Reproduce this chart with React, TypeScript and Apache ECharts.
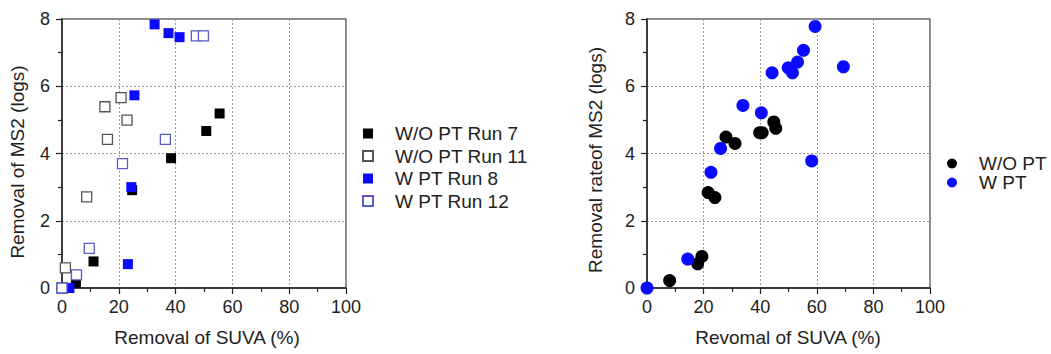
import React, { useEffect, useRef } from "react";
import * as echarts from "echarts";

// Left panel: removal of MS2 vs removal of SUVA, per run
const run7X = [4.9, 11.1, 24.7, 38.4, 50.8, 55.5];
const run7Y = [0.15, 0.79, 2.91, 3.86, 4.67, 5.19];

const run11X = [0, 1.2, 8.7, 15.1, 16.0, 20.8, 22.9];
const run11Y = [0, 0.6, 2.71, 5.39, 4.42, 5.66, 4.99];

const run8X = [2.6, 23.2, 24.4, 25.5, 32.6, 37.5, 41.4];
const run8Y = [0, 0.71, 3.0, 5.73, 7.84, 7.58, 7.46];

const run12X = [0, 5.1, 9.6, 21.3, 36.4, 47.3, 49.8];
const run12Y = [0, 0.39, 1.18, 3.7, 4.42, 7.5, 7.5];

// Right panel: pooled without / with pre-treatment
const woptX = [8.0, 17.9, 19.4, 21.6, 24.0, 27.9, 31.1, 39.8, 40.7, 44.8, 45.5];
const woptY = [0.22, 0.72, 0.94, 2.84, 2.69, 4.49, 4.3, 4.62, 4.62, 4.94, 4.75];

const wptX = [0, 14.4, 22.6, 26.0, 33.9, 40.4, 44.2, 49.9, 51.4, 53.2, 55.3, 59.4, 58.2, 69.4];
const wptY = [0, 0.86, 3.44, 4.15, 5.43, 5.21, 6.4, 6.55, 6.4, 6.72, 7.07, 7.78, 3.78, 6.58];

const xTicks = [0, 20, 40, 60, 80, 100];
const yTicks = [0, 2, 4, 6, 8];

const zip = (xs: number[], ys: number[]) => xs.map((x, i) => [x, ys[i]]);

const FONT = "'Liberation Sans', Arial, sans-serif";
const BLUE = "#0a0aff";

export default function App() {
  const ref = useRef<HTMLDivElement>(null);

  useEffect(() => {
    if (!ref.current) return;
    const chart = echarts.init(ref.current, undefined, { renderer: "svg" });

    const xAxisBase = (gridIndex: number) => ({
      type: "value",
      gridIndex,
      min: xTicks[0],
      max: xTicks[xTicks.length - 1],
      interval: 20,
      axisLine: { show: true, lineStyle: { color: "#222", width: 1.5 } },
      axisTick: { show: true, inside: false, length: 6, lineStyle: { color: "#222", width: 1.2 } },
      minorTick: { show: true, splitNumber: 2, length: 4, lineStyle: { color: "#222", width: 1.2 } },
      axisLabel: { fontSize: 18, color: "#222", fontFamily: FONT, margin: 10 },
      splitLine: { show: true, lineStyle: { color: "#999", width: 1, type: [2, 2] } },
    });

    const yAxisBase = (gridIndex: number) => ({
      type: "value",
      gridIndex,
      min: yTicks[0],
      max: yTicks[yTicks.length - 1],
      interval: 2,
      axisLine: { show: true, lineStyle: { color: "#222", width: 1.5 } },
      axisTick: { show: true, inside: false, length: 6, lineStyle: { color: "#222", width: 1.2 } },
      minorTick: { show: true, splitNumber: 2, length: 4, lineStyle: { color: "#222", width: 1.2 } },
      axisLabel: { fontSize: 18, color: "#222", fontFamily: FONT, margin: 12 },
      splitLine: { show: true, lineStyle: { color: "#999", width: 1, type: [2, 2] } },
    });

    const sq = (name: string, data: number[][], fill: string, stroke: string, bw: number) => ({
      name,
      type: "scatter",
      xAxisIndex: 0,
      yAxisIndex: 0,
      symbol: "rect",
      symbolSize: 10,
      clip: false,
      itemStyle: { color: fill, borderColor: stroke, borderWidth: bw, opacity: 1 },
      data,
    });

    const dot = (name: string, data: number[][], color: string) => ({
      name,
      type: "scatter",
      xAxisIndex: 1,
      yAxisIndex: 1,
      symbol: "circle",
      symbolSize: 13,
      clip: false,
      itemStyle: { color, opacity: 1 },
      data,
    });

    const titleText = (text: string, x: number, y: number, rotate: boolean) => ({
      type: "text",
      x,
      y,
      rotation: rotate ? Math.PI / 2 : 0,
      style: {
        text,
        fontSize: 19,
        fontFamily: FONT,
        fill: "#222",
        align: "center",
        verticalAlign: "middle",
      },
    });

    chart.setOption({
      animation: false,
      backgroundColor: "#fff",
      grid: [
        { left: 62, top: 19, width: 284, height: 269, show: true, borderColor: "#666", borderWidth: 1.5 },
        { left: 647, top: 19, width: 283, height: 269, show: true, borderColor: "#666", borderWidth: 1.5 },
      ],
      xAxis: [xAxisBase(0), xAxisBase(1)],
      yAxis: [yAxisBase(0), yAxisBase(1)],
      legend: [
        {
          orient: "vertical",
          left: 357,
          top: 118,
          itemWidth: 10,
          itemHeight: 10,
          itemGap: 1.5,
          data: ["W/O PT Run 7", "W/O PT Run 11", "W PT Run 8", "W PT Run 12"],
          textStyle: { fontSize: 19, fontFamily: FONT, color: "#222", lineHeight: 21, padding: [0, 0, 0, 17] },
        },
        {
          orient: "vertical",
          left: 942,
          top: 149,
          itemWidth: 10,
          itemHeight: 10,
          itemGap: 0,
          data: ["W/O PT", "W PT"],
          textStyle: { fontSize: 19, fontFamily: FONT, color: "#222", lineHeight: 17, padding: [0, 0, 0, 17] },
        },
      ],
      graphic: [
        titleText("Removal of MS2 (logs)", 17, 162, true),
        titleText("Removal rateof MS2 (logs)", 595, 160, true),
        titleText("Removal of SUVA (%)", 207, 337, false),
        titleText("Revomal of SUVA (%)", 788, 337, false),
      ],
      series: [
        sq("W/O PT Run 7", zip(run7X, run7Y), "#000", "#000", 0),
        sq("W/O PT Run 11", zip(run11X, run11Y), "#fff", "#555", 1.3),
        sq("W PT Run 8", zip(run8X, run8Y), BLUE, BLUE, 0),
        sq("W PT Run 12", zip(run12X, run12Y), "#fff", "#5a5ac8", 1.3),
        dot("W/O PT", zip(woptX, woptY), "#000"),
        dot("W PT", zip(wptX, wptY), BLUE),
      ],
    });

    return () => chart.dispose();
  }, []);

  return (
    <div
      ref={ref}
      style={{ position: "fixed", left: 0, top: 0, width: 1051, height: 354, background: "#fff" }}
    />
  );
}
